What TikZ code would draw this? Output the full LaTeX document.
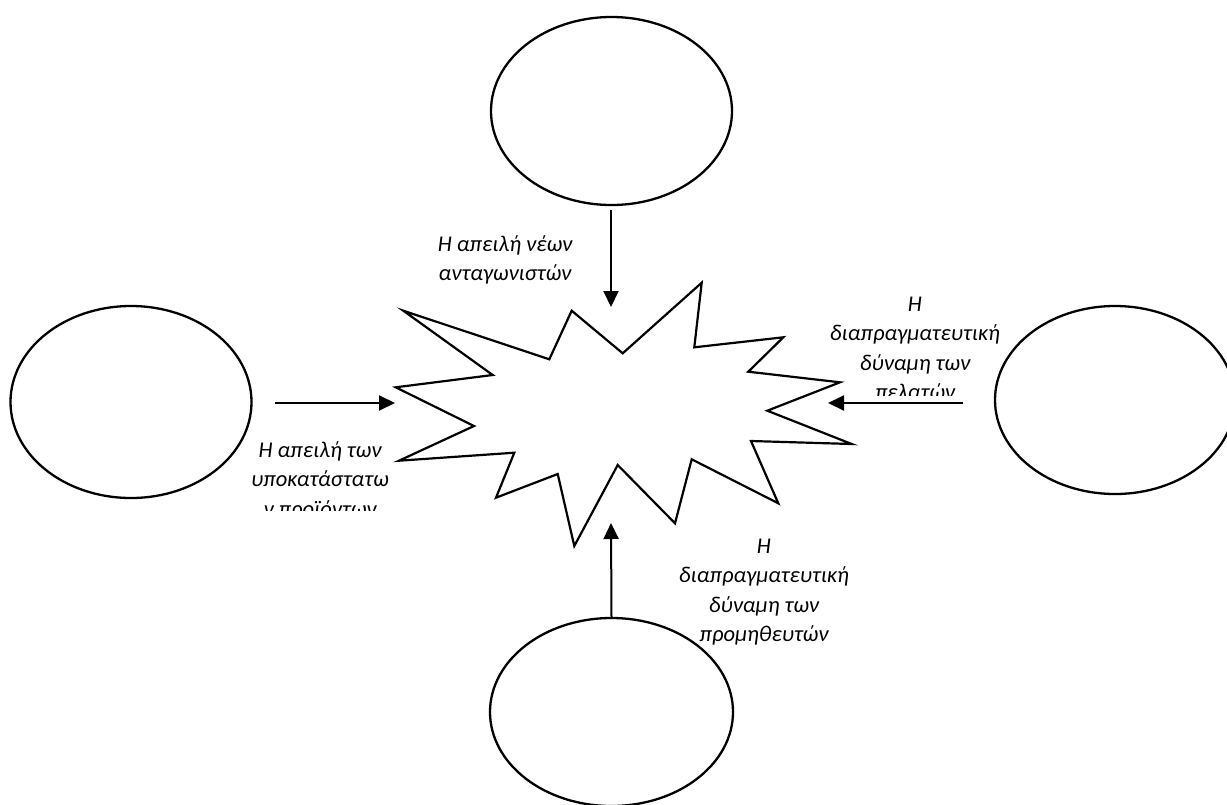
\documentclass[tikz,border=0pt]{standalone}
\usepackage{fontspec}
\setmainfont{Carlito}
\usetikzlibrary{shapes.geometric,arrows.meta}
\begin{document}
\begin{tikzpicture}[x=1pt,y=-1pt,
  force/.style={draw, line width=2.3pt, ellipse, inner sep=0pt,
                minimum width=241pt, minimum height=188pt},
  burst/.style={draw, line width=2.2pt, line join=miter},
  push/.style={line width=2pt, -{Triangle[length=16pt,width=15pt]}},
  lbl/.style={font=\fontsize{22.5}{29.5}\selectfont\itshape, align=center,
              inner sep=0pt, anchor=north}]
\useasboundingbox (0,0) rectangle (1227,804);
\fill[white] (0,0) rectangle (1227,804);
\clip (0,0) rectangle (1227,804);

% the four forces
\node[force] (newcomers)   at (611.5,111) {};
\node[force, minimum height=192pt] (substitutes) at (131,402) {};
\node[force, minimum width=240pt] (buyers)  at (1115,400) {};
\node[force, minimum width=243pt] (suppliers) at (611.5,712) {};

% rivalry burst in the middle
\draw[burst] (403.3,310.7) -- (549.3,359.3) -- (571.7,310.7) -- (622.7,353.3)
  -- (701.7,282.7) -- (694.3,347.3) -- (783.3,337.3) -- (748.3,371.7)
  -- (840,382.3) -- (767.3,410.7) -- (851.7,444) -- (751,441)
  -- (778.3,503.3) -- (691.7,459.3) -- (675,523.3) -- (617.7,465)
  -- (574.3,546) -- (557.7,474) -- (496,497.7) -- (514.3,452.7)
  -- (399,460.7) -- (474,426) -- (395.7,387.3) -- (492.7,375) -- cycle;

% arrow ends
\coordinate (nTail) at (611,210);
\coordinate (nHead) at (611,307);
\coordinate (sTail) at (275,403);
\coordinate (sHead) at (395,403);
\coordinate (bTail) at (963,403);
\coordinate (bHead) at (828,403);
\coordinate (pHead) at (611,523);

\draw[push] (nTail) -- (nHead);
\draw[push] (sTail) -- (sHead);
\draw[push] (bTail) -- (bHead);
\draw[push] (suppliers.north) -- (pHead);

% labels (the two side text boxes cut off their last line)
\node[lbl] (lblNew) at (505,230.35) {\strut Η απειλή νέων\\ανταγωνιστών};
\begin{scope}
  \clip (230,420) rectangle (410,510);
  \node[lbl] (lblSub) at (320,436.35) {\strut Η απειλή των\\υποκατάστατω\\ν προϊόντων};
\end{scope}
\begin{scope}
  \clip (810,270) rectangle (1020,395);
  \node[lbl] (lblBuy) at (915,290.35) {\strut Η\\διαπραγματευτική\\δύναμη των\\πελατών};
\end{scope}
\node[lbl] (lblSup) at (764,532.35) {\strut Η\\διαπραγματευτική\\δύναμη των\\προμηθευτών};
\end{tikzpicture}
\end{document}
